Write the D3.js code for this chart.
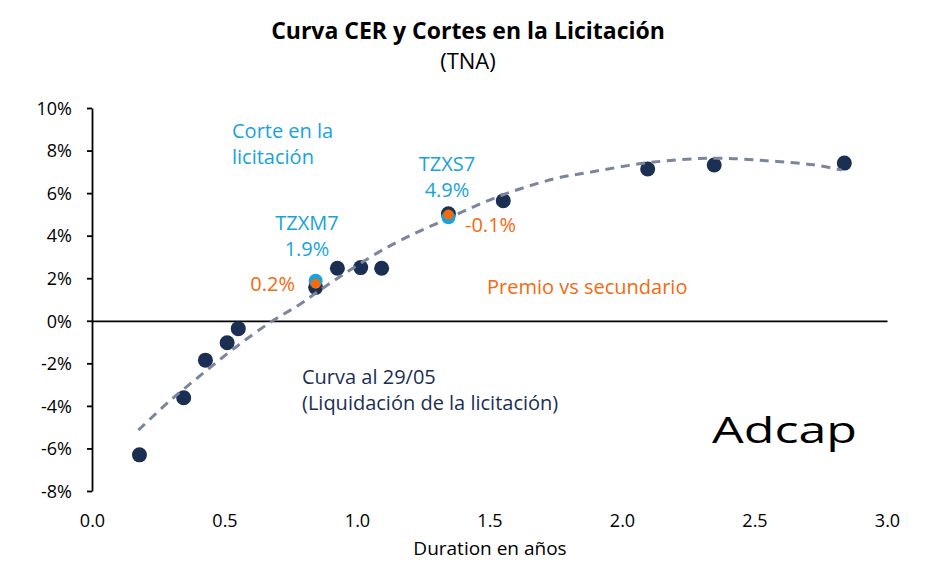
<!DOCTYPE html>
<html>
<head>
<meta charset="utf-8">
<script src="https://cdn.jsdelivr.net/npm/d3@7"></script>
<style>
  html, body { margin: 0; padding: 0; background: #ffffff; }
  svg { display: block; }
  text { font-family: "Open Sans", "Noto Sans", sans-serif; }
</style>
</head>
<body>
<svg id="chart" width="935" height="564"></svg>
<script>
// ---- Data ----
const curveDuration = [0.179, 0.346, 0.428, 0.510, 0.552, 0.844, 0.926, 1.014, 1.093, 1.345, 1.552, 2.097, 2.348, 2.839];
const curveRate     = [-6.30, -3.62, -1.85, -1.03, -0.37, 1.57, 2.47, 2.50, 2.47, 5.03, 5.64, 7.13, 7.32, 7.41];

const cutNames     = ["TZXM7", "TZXS7"];
const cutDuration  = [0.844, 1.345];
const cutRate      = [1.88, 4.86];
const premioRate   = [1.74, 4.99];
const premioLabel  = ["0.2%", "-0.1%"];
const cutLabel     = ["1.9%", "4.9%"];

const trendDuration = [0.175, 0.294, 0.408, 0.533, 0.672, 0.785, 0.879, 1.112, 1.338, 1.540, 1.741, 1.873, 2.106, 2.345, 2.546, 2.722, 2.829];
const trendRate     = [-5.14, -3.76, -2.58, -1.33, -0.08, 0.78, 1.60, 3.44, 4.78, 5.87, 6.66, 6.97, 7.44, 7.64, 7.52, 7.33, 7.08];

const xTicks = [0, 0.5, 1.0, 1.5, 2.0, 2.5, 3.0];
const yTicks = [10, 8, 6, 4, 2, 0, -2, -4, -6, -8];

// ---- Colors ----
const navy = "#1b2f52";
const cyan = "#17a3dd";
const orange = "#f5690f";
const trendColor = "#7b859c";

const svg = d3.select("#chart");

const x = d3.scaleLinear().domain([0, 3]).range([92, 887]);
const y = d3.scaleLinear().domain([-8, 10]).range([491, 108]);

// Title
svg.append("text").attr("x", 468).attr("y", 39).attr("text-anchor", "middle")
  .attr("font-size", 23).attr("font-weight", 700).attr("fill", "#000")
  .text("Curva CER y Cortes en la Licitación");
svg.append("text").attr("x", 468).attr("y", 69).attr("text-anchor", "middle")
  .attr("font-size", 22).attr("fill", "#000")
  .text("(TNA)");

// Y axis
const yAxis = d3.axisLeft(y).tickValues(yTicks).tickSize(5).tickSizeOuter(0)
  .tickFormat(d => d + "%");
const gy = svg.append("g").attr("transform", `translate(${x(0)},0)`).call(yAxis);
gy.select(".domain").attr("stroke", "#000").attr("stroke-width", 1.8);
gy.selectAll(".tick line").attr("stroke", "#000").attr("stroke-width", 1.8);
gy.selectAll(".tick text").attr("font-size", 18).attr("fill", "#000")
  .attr("font-family", "'Open Sans', sans-serif").attr("x", -20).attr("dy", "0.35em");

// X axis line at 0%
const xAxis = d3.axisBottom(x).tickValues(xTicks).tickSize(0).tickSizeOuter(0)
  .tickFormat(d3.format(".1f"));
const gx = svg.append("g").attr("transform", `translate(0,${y(0)})`).call(xAxis);
gx.select(".domain").attr("stroke", "#000").attr("stroke-width", 1.8);
gx.selectAll(".tick text").attr("font-size", 18).attr("fill", "#000")
  .attr("font-family", "'Open Sans', sans-serif")
  .attr("y", 527 - y(0)).attr("dy", 0);

// X axis title
svg.append("text").attr("x", 490).attr("y", 555).attr("text-anchor", "middle")
  .attr("font-size", 19).attr("fill", "#000").text("Duration en años");

// Dark curve points
svg.append("g").selectAll("circle").data(curveDuration.map((d, i) => [d, curveRate[i]]))
  .join("circle").attr("cx", d => x(d[0])).attr("cy", d => y(d[1])).attr("r", 7.5)
  .attr("fill", navy);

// Trend line
const line = d3.line().x(d => x(d[0])).y(d => y(d[1])).curve(d3.curveCatmullRom.alpha(0.5));
svg.append("path").datum(trendDuration.map((d, i) => [d, trendRate[i]]))
  .attr("d", line).attr("fill", "none").attr("stroke", trendColor)
  .attr("stroke-width", 3).attr("stroke-dasharray", "9,6.5");

// Cut points (cyan)
svg.append("g").selectAll("circle").data(cutDuration.map((d, i) => [d, cutRate[i]]))
  .join("circle").attr("cx", d => x(d[0])).attr("cy", d => y(d[1])).attr("r", 7)
  .attr("fill", cyan);

// Premio points (orange)
svg.append("g").selectAll("circle").data(cutDuration.map((d, i) => [d, premioRate[i]]))
  .join("circle").attr("cx", d => x(d[0])).attr("cy", d => y(d[1])).attr("r", 5)
  .attr("fill", orange);

// Labels for cuts
const fs = 20;
// TZXM7
svg.append("text").attr("x", 307).attr("y", 230).attr("text-anchor", "middle")
  .attr("font-size", fs).attr("fill", cyan).text(cutNames[0]);
svg.append("text").attr("x", 307).attr("y", 256).attr("text-anchor", "middle")
  .attr("font-size", fs).attr("fill", cyan).text(cutLabel[0]);
svg.append("text").attr("x", 295).attr("y", 291).attr("text-anchor", "end")
  .attr("font-size", fs).attr("fill", orange).text(premioLabel[0]);
// TZXS7
svg.append("text").attr("x", 447).attr("y", 171).attr("text-anchor", "middle")
  .attr("font-size", fs).attr("fill", cyan).text(cutNames[1]);
svg.append("text").attr("x", 447).attr("y", 197).attr("text-anchor", "middle")
  .attr("font-size", fs).attr("fill", cyan).text(cutLabel[1]);
svg.append("text").attr("x", 465).attr("y", 232).attr("text-anchor", "start")
  .attr("font-size", fs).attr("fill", orange).text(premioLabel[1]);

// Annotations
svg.append("text").attr("x", 232).attr("y", 138).attr("font-size", fs).attr("fill", cyan).text("Corte en la");
svg.append("text").attr("x", 232).attr("y", 164).attr("font-size", fs).attr("fill", cyan).text("licitación");
svg.append("text").attr("x", 487).attr("y", 294).attr("font-size", fs).attr("fill", orange).text("Premio vs secundario");
svg.append("text").attr("x", 302).attr("y", 384).attr("font-size", fs).attr("fill", navy).text("Curva al 29/05");
svg.append("text").attr("x", 302).attr("y", 410).attr("font-size", fs).attr("fill", navy).text("(Liquidación de la licitación)");

// Logo
svg.append("text").attr("x", 712).attr("y", 443).attr("font-size", 37)
  .attr("font-family", "'DejaVu Sans', sans-serif").attr("font-weight", 400)
  .attr("textLength", 145).attr("lengthAdjust", "spacingAndGlyphs")
  .attr("fill", "#000").text("Adcap");
</script>
</body>
</html>
